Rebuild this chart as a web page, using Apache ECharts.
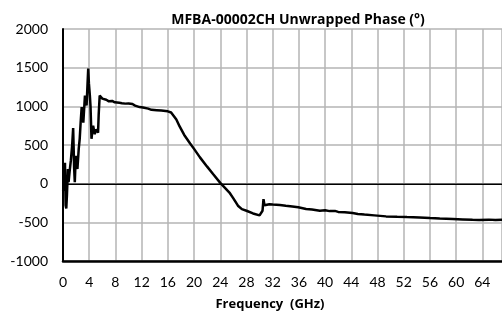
<!DOCTYPE html>
<html>
<head>
<meta charset="utf-8">
<script src="https://cdn.jsdelivr.net/npm/echarts@6/dist/echarts.min.js"></script>
<style>
  html, body { margin: 0; padding: 0; background: #fff; }
  #chart { width: 502px; height: 318px; }
</style>
</head>
<body>
<div id="chart"></div>
<script>
// frequency in GHz, unwrapped phase in degrees
const freq = [
  0.0, 0.1, 0.2, 0.3, 0.4, 0.5, 0.6, 0.75, 0.85, 1.0, 1.2, 1.4, 1.55, 1.7, 1.8, 1.95,
  2.1, 2.2, 2.4, 2.55, 2.7, 2.85, 3.0, 3.1, 3.25, 3.35, 3.5, 3.6, 3.75, 3.85, 3.95,
  4.1, 4.2, 4.35, 4.5, 4.6, 4.75, 4.85, 5.0, 5.2, 5.35, 5.45, 5.6, 5.85, 6.0, 6.3,
  6.6, 7.0, 7.5, 7.9, 8.2, 8.6, 9.0, 9.5, 10.0, 10.6, 11.0, 11.7, 12.2, 13.0, 13.5,
  14.3, 15.0, 16.0, 16.5, 16.8, 17.3, 17.8, 18.5, 19.4, 20.0, 20.9, 22.0, 22.9, 24.0,
  25.4, 26.0, 26.7, 27.3, 28.0, 29.0, 30.0, 30.3, 30.45, 30.6, 30.75, 31.0, 31.5, 32.0,
  33.1, 34.0, 35.0, 35.9, 37.1, 38.0, 39.2, 40.0, 40.7, 41.5, 42.0, 43.0, 44.2, 45.0,
  46.0, 47.5, 49.3, 51.0, 52.5, 54.4, 56.0, 57.5, 59.5, 61.0, 62.5, 63.5, 65.0, 66.0, 67.0
];
const phase = [
  -90, -60, 150, 270, -280, -320, -150, 190, 20, 150, 300, 500, 720, 200, 20, 360,
  250, 190, 450, 580, 800, 990, 850, 790, 1000, 1140, 1050, 1010, 1300, 1490, 1300,
  1140, 1000, 580, 700, 750, 680, 640, 700, 680, 660, 900, 1140, 1160, 1100, 1075,
  1085, 1065, 1070, 1052, 1050, 1045, 1040, 1035, 1038, 1030, 1010, 990, 985, 970, 955,
  950, 945, 935, 920, 905, 830, 740, 630, 520, 450, 340, 220, 125, 10,
  -115, -190, -285, -330, -350, -385, -410, -415, -350, -200, -280, -260, -265, -270,
  -275, -285, -295, -305, -327, -335, -349, -345, -355, -352, -365, -370, -380, -392,
  -400, -410, -423, -428, -432, -436, -445, -452, -457, -462, -468, -470, -465, -470, -465
];
const yTicks = [-1000, -500, 0, 500, 1000, 1500, 2000];

const chart = echarts.init(document.getElementById('chart'));
const font = 'Lato, "Liberation Sans", sans-serif';
const boldFont = '"Open Sans", Lato, sans-serif';

const option = {
  animation: false,
  title: [
    {
      text: 'MFBA-00002CH Unwrapped Phase (°)',
      left: 293, top: 8, textAlign: 'center',
      textStyle: { fontFamily: boldFont, fontSize: 14, fontWeight: 'bold', color: '#000' }
    },
    {
      text: 'Frequency  (GHz)',
      left: 265, top: 293, textAlign: 'center',
      textStyle: { fontFamily: boldFont, fontSize: 13, fontWeight: 'bold', color: '#000' }
    }
  ],
  grid: { left: 63, right: 0, top: 29, bottom: 57, containLabel: false },
  xAxis: [
    {
      type: 'value', min: 0, max: 67, interval: 4,
      axisLine: { onZero: false, lineStyle: { color: '#000', width: 2.5 } },
      axisTick: { show: false },
      axisLabel: { showMaxLabel: false, margin: 14, fontFamily: font, fontSize: 14, color: '#000' },
      splitLine: { show: true, lineStyle: { color: '#b4b4b4', width: 1.5 } }
    },
    {
      type: 'value', min: 0, max: 67, position: 'top',
      axisLine: { show: true, lineStyle: { color: '#000', width: 2 } },
      axisTick: { show: false }, axisLabel: { show: false }, splitLine: { show: false }
    }
  ],
  yAxis: {
    type: 'value', min: yTicks[0], max: yTicks[yTicks.length - 1], interval: 500,
    axisLine: { show: true, lineStyle: { color: '#000', width: 2 } },
    axisTick: { show: false },
    axisLabel: { margin: 15, fontFamily: font, fontSize: 14, color: '#000', formatter: v => String(v) },
    splitLine: { show: true, lineStyle: { color: '#b4b4b4', width: 1.5 } }
  },
  series: [
    {
      type: 'line',
      xAxisIndex: 0,
      data: freq.map((f, i) => [f, phase[i]]),
      showSymbol: false,
      lineStyle: { color: '#000', width: 2.5 },
      z: 5,
      markLine: {
        silent: true, symbol: 'none', label: { show: false },
        lineStyle: { color: '#666', width: 1, type: 'solid' },
        data: [{ yAxis: 0 }],
        z: 1
      }
    }
  ]
};
chart.setOption(option);
</script>
</body>
</html>
